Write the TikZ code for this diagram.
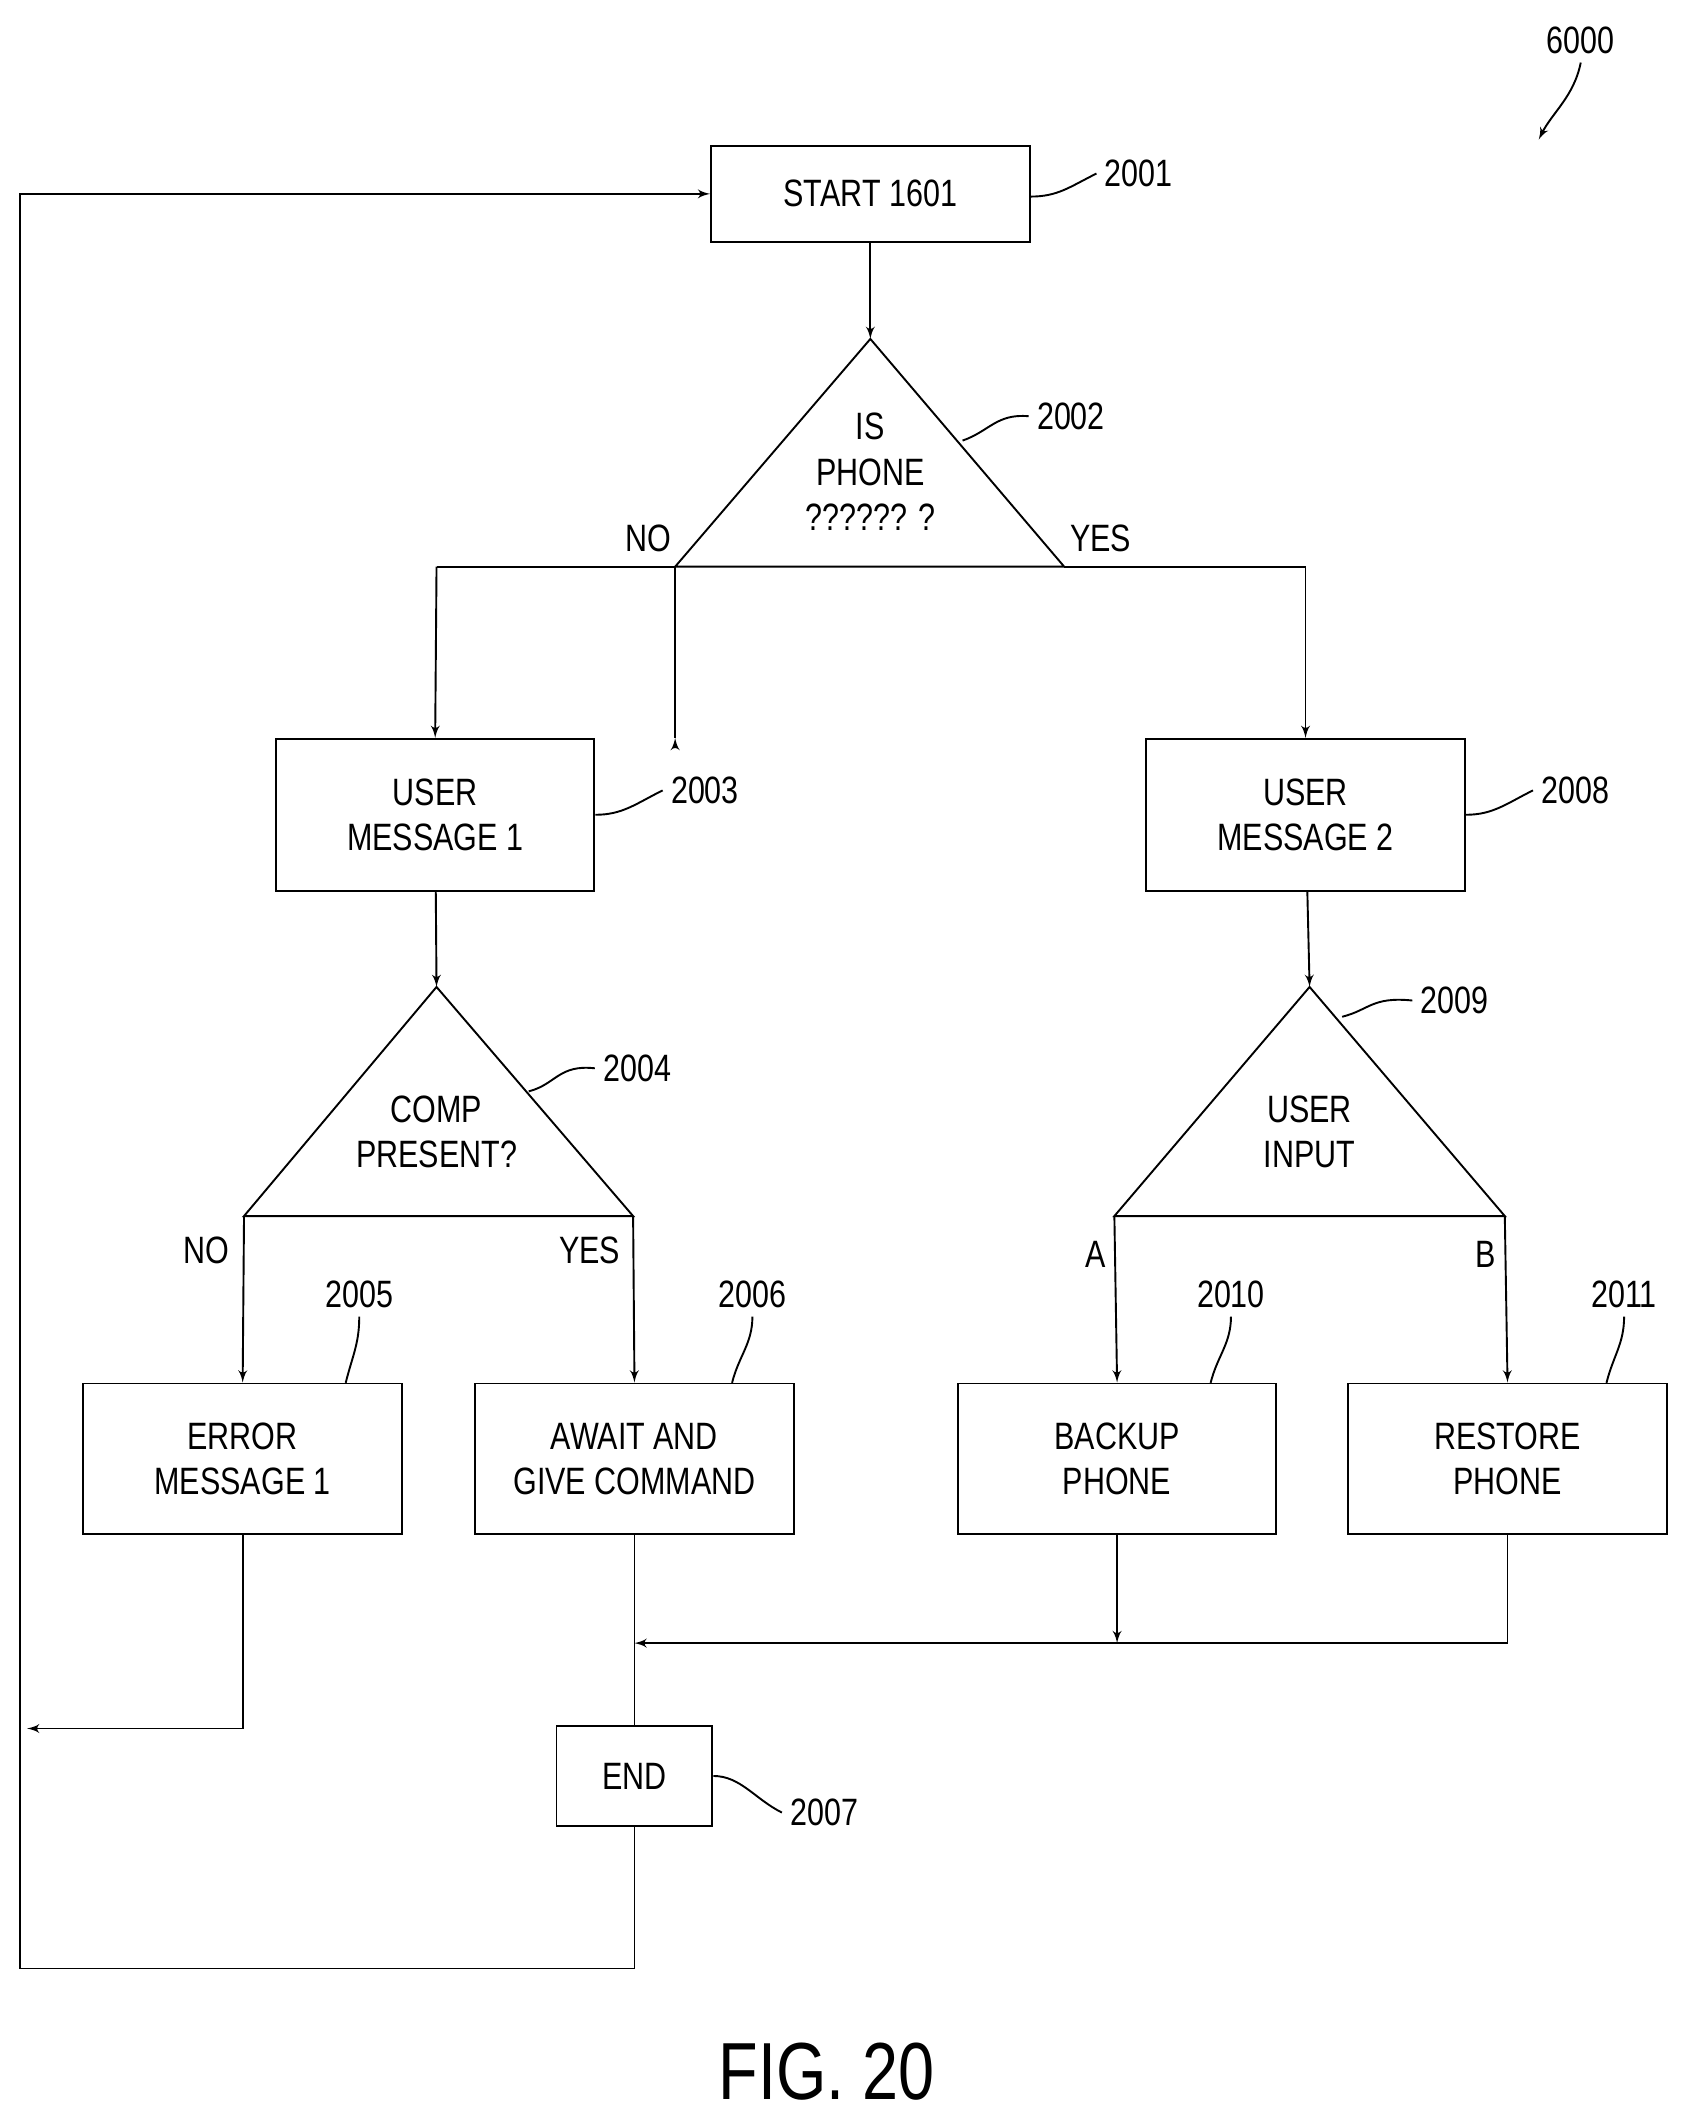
\documentclass[tikz,border=0pt]{standalone}
\usepackage{fontspec}
\setmainfont{Liberation Sans}[FakeStretch=0.8]
\usetikzlibrary{arrows}

\begin{document}
\begin{tikzpicture}[x=0.02cm,y=-0.02cm]
\tikzset{edge/.style = {->,> = latex'},
         box/.style = {draw=black,thick,align=center,font=\fontsize{16}{19}\selectfont},
         lbl/.style = {font=\fontsize{16}{19}\selectfont},
         tri/.style = {draw=black,thick}}
\useasboundingbox (0,0) rectangle (1245,1566);

% boxes
\node[box,minimum width=4.7cm,minimum height=1.42cm] (S) at (642,143) {START 1601};
\node[box,minimum width=4.7cm,minimum height=2.24cm] (M1) at (321,601) {USER\\MESSAGE 1};
\node[box,minimum width=4.7cm,minimum height=2.24cm] (M2) at (963,601) {USER\\MESSAGE 2};
\node[box,minimum width=4.7cm,minimum height=2.22cm] (E1) at (179,1076) {ERROR\\MESSAGE 1};
\node[box,minimum width=4.7cm,minimum height=2.22cm] (AW) at (468,1076) {AWAIT AND\\GIVE COMMAND};
\node[box,minimum width=4.7cm,minimum height=2.22cm] (BK) at (824,1076) {BACKUP\\PHONE};
\node[box,minimum width=4.7cm,minimum height=2.22cm] (RS) at (1112,1076) {RESTORE\\PHONE};
\node[box,minimum width=2.3cm,minimum height=1.48cm] (END) at (468,1310) {END};

% triangles
\coordinate (T1) at (642,250); \coordinate (T1l) at (498,418); \coordinate (T1r) at (785,418);
\coordinate (T2) at (322,728); \coordinate (T2l) at (180,897); \coordinate (T2r) at (467,897);
\coordinate (T3) at (966,728); \coordinate (T3l) at (822,897); \coordinate (T3r) at (1110,897);
\draw[tri] (T1) -- (T1l) -- (T1r) -- cycle;
\draw[tri] (T2) -- (T2l) -- (T2r) -- cycle;
\draw[tri] (T3) -- (T3l) -- (T3r) -- cycle;
\node[lbl,align=center] (Q1) at (642,348) {IS\\PHONE\\?????? ?};
\node[lbl,align=center] (Q2) at (322,835) {COMP\\PRESENT?};
\node[lbl,align=center] (Q3) at (966,835) {USER\\INPUT};

% connectors
\coordinate (J) at (468,1212);
\coordinate (L1) at (20,1275);
\coordinate (L2) at (15,1452);
\draw[edge,thick] (S) -- (T1);
\draw[edge,thick] (T1l) -- (M1.north -| T1l) ++(0,0);
\draw[thick] (T1l) -- (322,418);
\draw[edge,thick] (322,418) -- (M1.north);
\draw[edge,thick] (T1r) -- (M2.north |- T1r) -- (M2.north);
\draw[edge,thick] (M1) -- (T2);
\draw[edge,thick] (M2) -- (T3);
\draw[edge,thick] (T2l) -- (E1.north);
\draw[edge,thick] (T2r) -- (AW.north);
\draw[edge,thick] (T3l) -- (BK.north);
\draw[edge,thick] (T3r) -- (RS.north);
\draw[edge,thick] (BK.south) -- (BK.south |- J);
\draw[edge,thick] (RS.south) -- (RS.south |- J) -- (J);
\draw[thick] (AW.south) -- (END.north);
\draw[edge,thick] (E1.south) -- (E1.south |- L1) -- (L1);
\draw[edge,thick] (END.south) -- (END.south |- L2) -- (L2) -- (L2 |- S) -- (S.west);

% branch labels
\node[lbl] (no1) at (478,397) {NO};
\node[lbl] (yes1) at (812,397) {YES};
\node[lbl] (no2) at (152,922) {NO};
\node[lbl] (yes2) at (435,922) {YES};
\node[lbl] (a) at (808,925) {A};
\node[lbl] (b) at (1096,925) {B};

% reference numerals
\node[lbl] (r2001) at (840,128) {2001};
\node[lbl] (r2002) at (790,307) {2002};
\node[lbl] (r2003) at (520,583) {2003};
\node[lbl] (r2008) at (1162,583) {2008};
\node[lbl] (r2004) at (470,788) {2004};
\node[lbl] (r2009) at (1073,738) {2009};
\node[lbl] (r2005) at (265,955) {2005};
\node[lbl] (r2006) at (555,955) {2006};
\node[lbl] (r2010) at (908,955) {2010};
\node[lbl] (r2011) at (1198,955) {2011};
\node[lbl] (r2007) at (608,1337) {2007};
\node[lbl] (r6000) at (1166,30) {6000};
\draw[thick] (S.east) ++(0,2) .. controls +(20,0) and +(-20,10) .. (r2001.west);
\draw[thick] (710,325) .. controls (730,318) and (735,305) .. (r2002.west);
\draw[thick] (M1.east) .. controls +(20,0) and +(-20,10) .. (r2003.west);
\draw[thick] (M2.east) .. controls +(20,0) and +(-20,10) .. (r2008.west);
\draw[thick] (390,805) .. controls (410,800) and (412,785) .. (r2004.west);
\draw[thick] (990,750) .. controls (1010,745) and (1012,735) .. (r2009.west);
\draw[thick] (r2005.south) .. controls +(0,20) and +(5,-20) .. (255,1020);
\draw[thick] (r2006.south) .. controls +(0,20) and +(5,-20) .. (540,1020);
\draw[thick] (r2010.south) .. controls +(0,20) and +(5,-20) .. (893,1020);
\draw[thick] (r2011.south) .. controls +(0,20) and +(5,-20) .. (1185,1020);
\draw[thick] (END.east) .. controls +(20,0) and +(-20,-10) .. (r2007.west);
\draw[edge,thick] (r6000.south) .. controls +(-5,25) and +(10,-20) .. (1135,103);

\node[font=\fontsize{34}{40}\selectfont] (fig) at (610,1528) {FIG. 20};
\end{tikzpicture}
\end{document}
